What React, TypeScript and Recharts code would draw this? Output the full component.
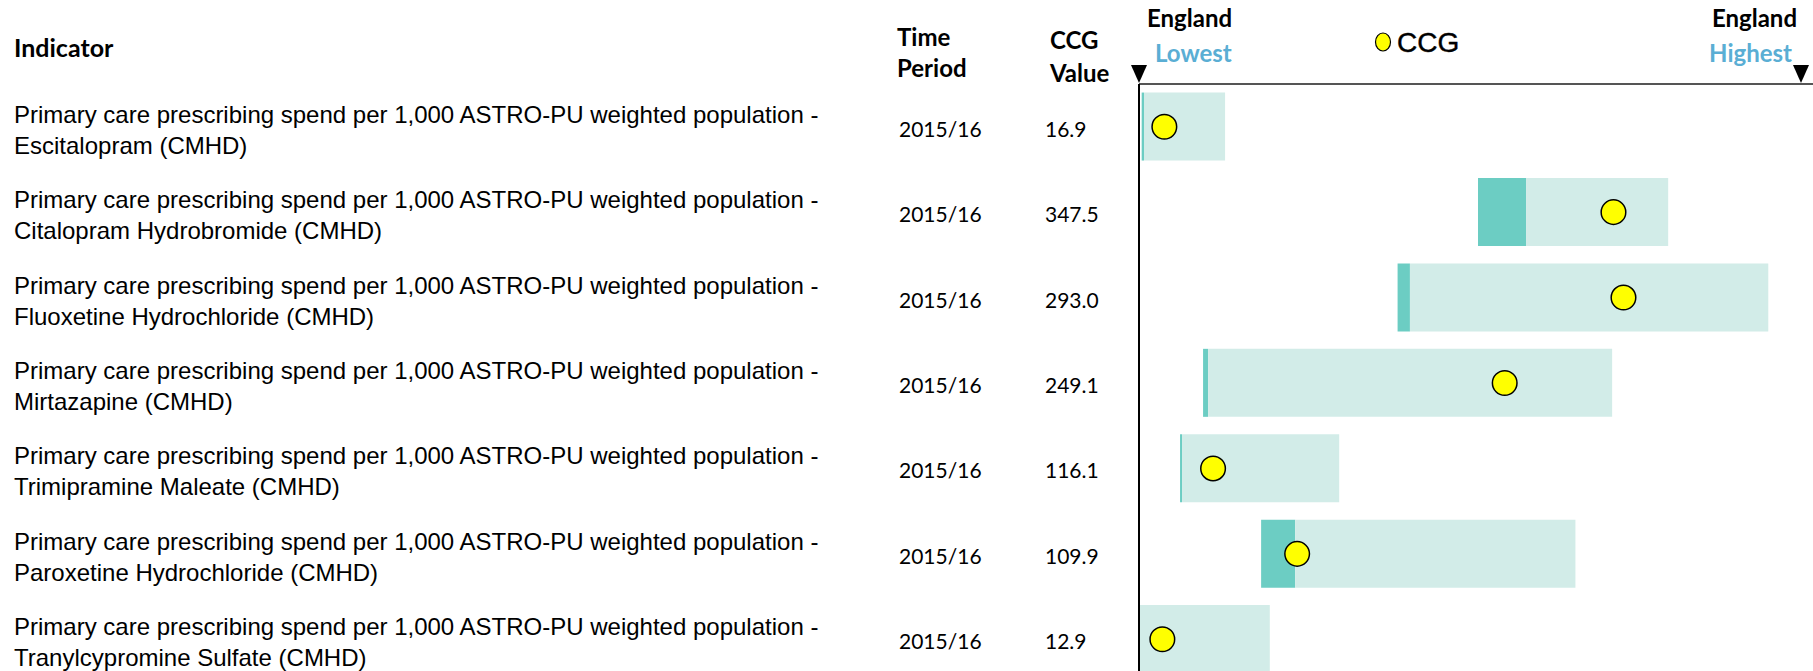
import React from 'react';
import {
  ComposedChart,
  Bar,
  Line,
  XAxis,
  YAxis,
  Legend,
} from 'recharts';

// indicator rows (all "Primary care prescribing spend per 1,000 ASTRO-PU weighted population - <drug> (CMHD)")
const drugs = [
  'Escitalopram',
  'Citalopram Hydrobromide',
  'Fluoxetine Hydrochloride',
  'Mirtazapine',
  'Trimipramine Maleate',
  'Paroxetine Hydrochloride',
  'Tranylcypromine Sulfate',
];
const timePeriods = ['2015/16', '2015/16', '2015/16', '2015/16', '2015/16', '2015/16', '2015/16'];
const ccgValues = ['16.9', '347.5', '293.0', '249.1', '116.1', '109.9', '12.9'];

// positions on the spine, 0 = England lowest, 100 = England highest
const rangeStart = [0.4, 50.8, 38.75, 9.6, 6.15, 18.3, 0];
const darkEnd = [0.75, 58.0, 40.6, 10.35, 6.45, 23.4, 0];
const rangeEnd = [12.9, 79.3, 94.3, 70.9, 30.0, 65.4, 19.6];
const ccgPosition = [3.8, 71.1, 72.6, 54.8, 11.1, 23.7, 3.5];

const LINE1 = 'Primary care prescribing spend per 1,000 ASTRO-PU weighted population -';
const HEAD_FONT = 'Lato, "Open Sans", sans-serif';
const LABEL_FONT = '"Liberation Sans", Arial, sans-serif';
const BLUE = '#5aaed4';
const DARK = '#6ccdc3';
const LIGHT = '#d2ece8';

const data = drugs.map((drug, i) => ({
  drug,
  offset: rangeStart[i],
  dark: darkEnd[i] - rangeStart[i],
  light: rangeEnd[i] - darkEnd[i],
  ccg: ccgPosition[i],
}));

function RowTick({ y, payload }: any) {
  const i = drugs.indexOf(payload.value);
  return (
    <g>
      <text x={14} y={y - 4} fontFamily={LABEL_FONT} fontSize={24} fill="#000">
        {LINE1}
      </text>
      <text x={14} y={y + 27} fontFamily={LABEL_FONT} fontSize={24} fill="#000">
        {`${drugs[i]} (CMHD)`}
      </text>
      <text x={899} y={y + 10} fontFamily={HEAD_FONT} fontSize={21} fill="#000">
        {timePeriods[i]}
      </text>
      <text x={1045} y={y + 10} fontFamily={HEAD_FONT} fontSize={21} fill="#000">
        {ccgValues[i]}
      </text>
    </g>
  );
}

function SpineTick({ x, payload }: any) {
  const low = payload.value === 0;
  return (
    <g fontFamily={HEAD_FONT} fontWeight={700} fontSize={24}>
      <path d={`M${x - 8},65 L${x + 8},65 L${x},83 Z`} fill="#000" />
      <text x={low ? x + 8 : x - 4} y={27} textAnchor={low ? 'start' : 'end'} fill="#000">
        England
      </text>
      <text x={low ? x + 16 : x - 9} y={62} textAnchor={low ? 'start' : 'end'} fill={BLUE}>
        {low ? 'Lowest' : 'Highest'}
      </text>
    </g>
  );
}

function CcgLegend({ payload }: any) {
  const item = (payload || []).find((p: any) => p.dataKey === 'ccg');
  return (
    <svg width={120} height={44}>
      <ellipse cx={13} cy={24} rx={7.5} ry={9} fill="#ffff00" stroke="#000" strokeWidth={1.2} />
      <text
        x={27}
        y={34}
        fontFamily={LABEL_FONT}
        fontSize={28}
        fill="#000"
        stroke="#000"
        strokeWidth={0.4}
      >
        {item ? item.value : 'CCG'}
      </text>
    </svg>
  );
}

export default function App() {
  return (
    <div
      style={{
        position: 'absolute',
        left: 0,
        top: 0,
        width: 1813,
        height: 671,
        overflow: 'hidden',
        background: '#fff',
      }}
    >
      <svg
        width={1135}
        height={90}
        style={{ position: 'absolute', left: 0, top: 0 }}
        fontFamily={HEAD_FONT}
        fontWeight={700}
        fontSize={24}
      >
        <text x={14} y={57} fontSize={25}>Indicator</text>
        <text x={897} y={46}>Time</text>
        <text x={897} y={77}>Period</text>
        <text x={1050} y={49}>CCG</text>
        <text x={1050} y={82}>Value</text>
      </svg>
      <ComposedChart
        width={1813}
        height={682}
        data={data}
        layout="vertical"
        margin={{ top: 0, right: 0, bottom: 0, left: 0 }}
        barCategoryGap="10%"
        style={{ position: 'absolute', left: 0, top: 0 }}
      >
        <XAxis
          type="number"
          orientation="top"
          domain={[0, 101]}
          ticks={[0, 100]}
          height={84}
          axisLine={{ stroke: '#555', strokeWidth: 2 }}
          tickLine={false}
          tick={<SpineTick />}
        />
        <YAxis
          type="category"
          dataKey="drug"
          width={1139}
          axisLine={{ stroke: '#000', strokeWidth: 2 }}
          tickLine={false}
          tick={<RowTick />}
          interval={0}
        />
        <Legend
          layout="horizontal"
          verticalAlign="middle"
          align="center"
          wrapperStyle={{ left: 1370, top: 18, width: 120, height: 44 }}
          content={<CcgLegend />}
        />
        <Bar dataKey="offset" stackId="spine" fill="transparent" legendType="none" isAnimationActive={false} />
        <Bar dataKey="dark" stackId="spine" fill={DARK} legendType="none" isAnimationActive={false} />
        <Bar dataKey="light" stackId="spine" fill={LIGHT} legendType="none" isAnimationActive={false} />
        <Line
          dataKey="ccg"
          name="CCG"
          stroke="none"
          legendType="circle"
          dot={{ r: 12.3, fill: '#ffff00', stroke: '#000', strokeWidth: 1.5 }}
          activeDot={false}
          isAnimationActive={false}
        />
      </ComposedChart>
    </div>
  );
}
